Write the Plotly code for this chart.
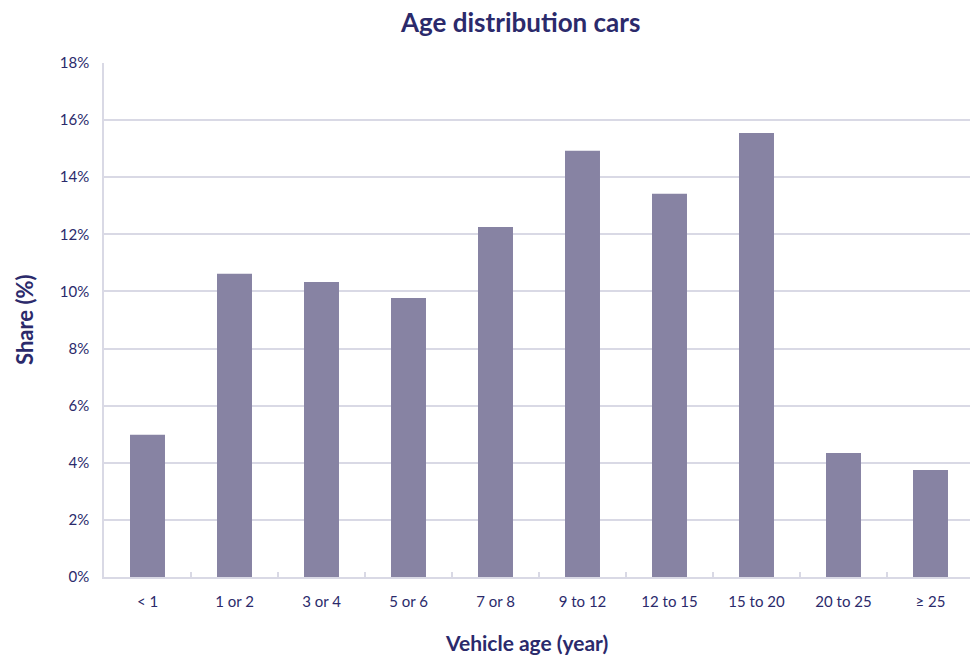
import plotly.graph_objects as go

categories = ["< 1", "1 or 2", "3 or 4", "5 or 6", "7 or 8", "9 to 12", "12 to 15", "15 to 20", "20 to 25", "≥ 25"]
shares = [4.98, 10.62, 10.33, 9.77, 12.26, 14.93, 13.42, 15.55, 4.34, 3.75]
y_ticks = [0, 2, 4, 6, 8, 10, 12, 14, 16, 18]
y_tick_labels = [f"{v}%" for v in y_ticks]

text_color = "#2b2a6b"
grid_color = "#d9d9e5"
bar_color = "#8783a3"
font_family = "Lato, Carlito, Calibri, sans-serif"

L, T, B = 104, 63, 577
W, H = 970, 657
pw = W - L
ph = B - T


def px(x):
    return (x - L) / pw


def py(y):
    return (B - y) / ph


fig = go.Figure(go.Bar(x=categories, y=shares, marker=dict(color=bar_color, line=dict(width=0)),
                       hoverinfo="x+y"))

fig.update_layout(
    width=W, height=H,
    margin=dict(l=L, r=0, t=T, b=H - B),
    paper_bgcolor="white", plot_bgcolor="white",
    bargap=0.598,
    showlegend=False,
    font=dict(family=font_family, color=text_color, size=15),
    annotations=[
        dict(text="<b>Age distribution cars</b>", x=px(520), y=py(22), xref="paper", yref="paper",
             xanchor="center", yanchor="middle", showarrow=False, font=dict(size=26, color=text_color)),
        dict(text="<b>Vehicle age (year)</b>", x=px(526), y=py(642), xref="paper", yref="paper",
             xanchor="center", yanchor="middle", showarrow=False, font=dict(size=21, color=text_color)),
        dict(text="<b>Share (%)</b>", x=px(24), y=py(320), xref="paper", yref="paper",
             xanchor="center", yanchor="middle", showarrow=False, textangle=-90,
             font=dict(size=22, color=text_color)),
    ],
)

fig.update_xaxes(
    range=[-0.5, 9.5 - 4 / 87],
    showgrid=False, showline=True, linecolor=grid_color, linewidth=1.5,
    ticks="inside", tickson="boundaries", ticklen=5, tickcolor=grid_color, tickwidth=1.5,
    ticklabelstandoff=10, tickfont=dict(size=15, color=text_color),
)
fig.update_yaxes(
    range=[0, 18], tickvals=y_ticks, ticktext=y_tick_labels,
    showgrid=True, gridcolor=grid_color, gridwidth=1.5,
    showline=True, linecolor=grid_color, linewidth=1.5,
    zeroline=False, ticks="", ticklabelstandoff=10,
    tickfont=dict(size=15, color=text_color),
)

fig.write_html("out.html")
